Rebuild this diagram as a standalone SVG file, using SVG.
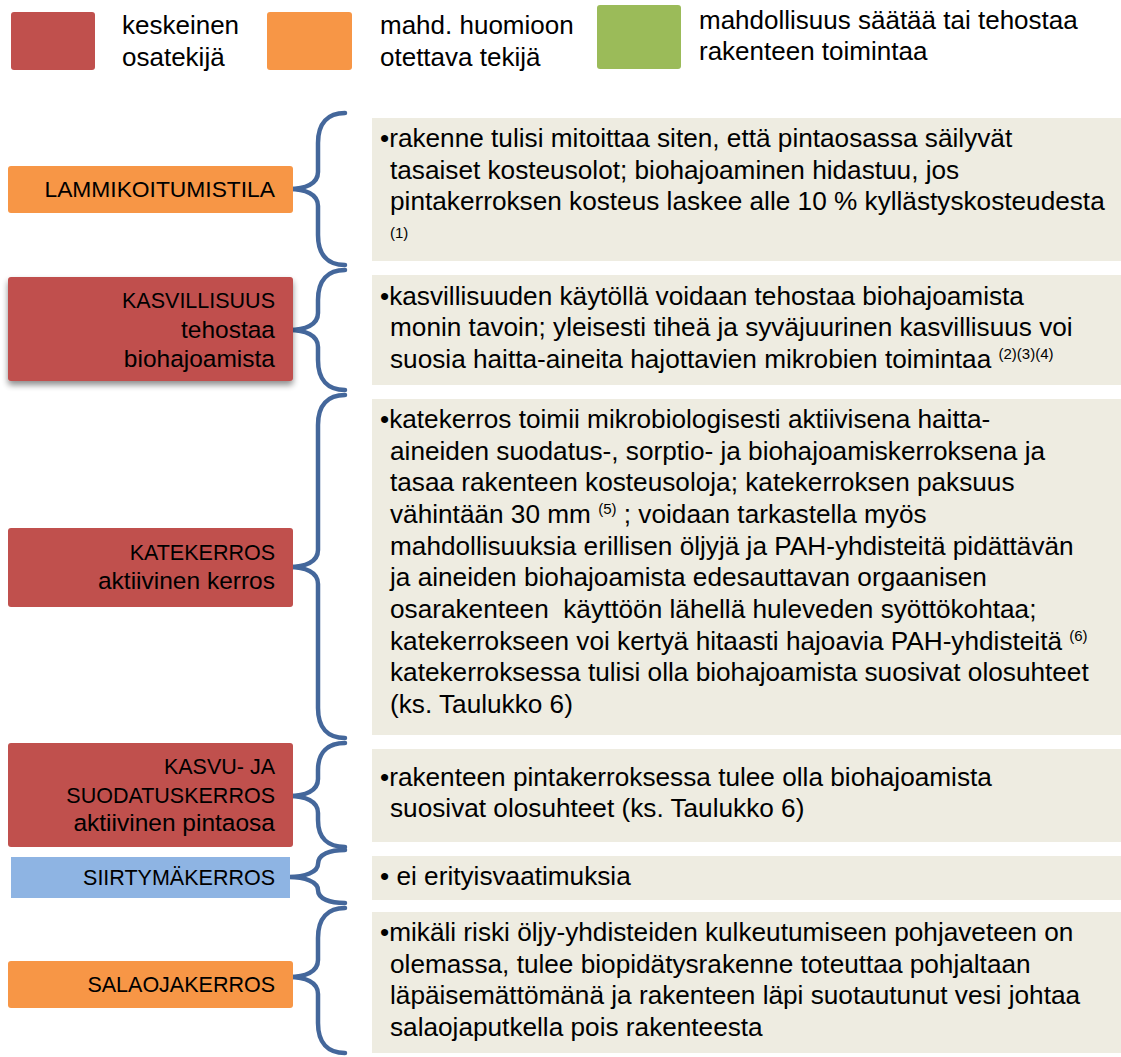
<svg xmlns="http://www.w3.org/2000/svg" width="1121" height="1057" viewBox="0 0 1121 1057">
<style>
text{font-family:"Liberation Sans",Arial,sans-serif;font-size:26.2px;fill:#000}
.leg{font-size:26px}
.lbl{text-anchor:end;font-size:21.5px}
.lc{font-size:24.5px}
.red{fill:#C0504D}
.org{fill:#F79646}
.blu{fill:#8EB4E3}
.grn{fill:#9BBB59}
.tb{fill:#EEECE1}
.brace{fill:none;stroke:#44679B;stroke-width:4.5;stroke-linecap:round}
.sup{font-size:15px}
</style>
<defs>
<filter id="sh" x="-10%" y="-10%" width="120%" height="130%">
<feGaussianBlur in="SourceAlpha" stdDeviation="3"/>
<feOffset dx="0" dy="4" result="b"/>
<feComponentTransfer><feFuncA type="linear" slope="0.45"/></feComponentTransfer>
<feMerge><feMergeNode/><feMergeNode in="SourceGraphic"/></feMerge>
</filter>
</defs>
<rect width="1121" height="1057" fill="#fff"/>

<g id="legend">
<rect class="red" x="11" y="12" width="84" height="58" rx="3"/>
<text class="leg" x="122" y="34">keskeinen</text>
<text class="leg" x="122" y="66">osatekijä</text>
<rect class="org" x="267" y="12" width="85" height="58" rx="3"/>
<text class="leg" x="380" y="34">mahd. huomioon</text>
<text class="leg" x="380" y="66">otettava tekijä</text>
<rect class="grn" x="597" y="5" width="84" height="64" rx="3"/>
<text class="leg" x="699" y="29">mahdollisuus säätää tai tehostaa</text>
<text class="leg" x="699" y="60">rakenteen toimintaa</text>
</g>

<g id="connectors">
<path class="brace" d="M345,113 C328,113 318,123 318,143 L318,172 C318,184 305,189 289,189 C305,189 318,194 318,206 L318,235 C318,255 328,265 345,265"/>
<path class="brace" d="M345,270 C328,270 318,280 318,300 L318,313 C318,325 305,330 289,330 C305,330 318,335 318,347 L318,360 C318,380 328,390 345,390"/>
<path class="brace" d="M345,395 C328,395 318,405 318,425 L318,550 C318,562 305,567 289,567 C305,567 318,572 318,584 L318,708 C318,728 328,738 345,738"/>
<path class="brace" d="M345,743 C328,743 318,752 318,770 L318,779 C318,791 305,796 289,796 C305,796 318,801 318,813 L318,820 C318,838 328,847 345,847"/>
<path class="brace" d="M345,850 C330,850 318,854 318,864 C318,872 305,877 289,877 C305,877 318,882 318,890 C318,899 330,903 345,903"/>
<path class="brace" d="M345,908 C328,908 318,918 318,938 L318,960 C318,972 305,977 289,977 C305,977 318,982 318,994 L318,1023 C318,1043 328,1053 345,1053"/>
</g>

<g id="n1">
<rect class="org" x="8" y="166" width="285" height="47" rx="3"/>
<text class="lbl" x="275" y="197" style="font-size:22.8px">LAMMIKOITUMISTILA</text>
</g>
<g id="t1">
<rect class="tb" x="372" y="118" width="749" height="143"/>
<text x="380" y="147">•rakenne tulisi mitoittaa siten, että pintaosassa säilyvät</text>
<text x="390" y="179">tasaiset kosteusolot; biohajoaminen hidastuu, jos</text>
<text x="390" y="210">pintakerroksen kosteus laskee alle 10 % kyllästyskosteudesta</text>
<text class="sup" x="390" y="238">(1)</text>
</g>

<g id="n2">
<rect class="red" x="8" y="277" width="285" height="104" rx="3" filter="url(#sh)"/>
<text class="lbl" x="275" y="308">KASVILLISUUS</text>
<text class="lbl lc" x="275" y="338">tehostaa</text>
<text class="lbl lc" x="275" y="367">biohajoamista</text>
</g>
<g id="t2">
<rect class="tb" x="372" y="275" width="749" height="110"/>
<text x="380" y="305">•kasvillisuuden käytöllä voidaan tehostaa biohajoamista</text>
<text x="390" y="336">monin tavoin; yleisesti tiheä ja syväjuurinen kasvillisuus voi</text>
<text x="390" y="368">suosia haitta-aineita hajottavien mikrobien toimintaa <tspan class="sup" dy="-9">(2)(3)(4)</tspan></text>
</g>

<g id="n3">
<rect class="red" x="8" y="528" width="285" height="79" rx="3"/>
<text class="lbl" x="275" y="560">KATEKERROS</text>
<text class="lbl lc" x="275" y="589">aktiivinen kerros</text>
</g>
<g id="t3">
<rect class="tb" x="372" y="399" width="749" height="336"/>
<text x="380" y="428">•katekerros toimii mikrobiologisesti aktiivisena haitta-</text>
<text x="390" y="460">aineiden suodatus-, sorptio- ja biohajoamiskerroksena ja</text>
<text x="390" y="491">tasaa rakenteen kosteusoloja; katekerroksen paksuus</text>
<text x="390" y="523">vähintään 30 mm <tspan class="sup" dy="-9">(5)</tspan><tspan dy="9"> ; voidaan tarkastella myös</tspan></text>
<text x="390" y="555">mahdollisuuksia erillisen öljyjä ja PAH-yhdisteitä pidättävän</text>
<text x="390" y="586">ja aineiden biohajoamista edesauttavan orgaanisen</text>
<text x="390" y="618" xml:space="preserve">osarakenteen  käyttöön lähellä huleveden syöttökohtaa;</text>
<text x="390" y="650">katekerrokseen voi kertyä hitaasti hajoavia PAH-yhdisteitä <tspan class="sup" dy="-9">(6)</tspan></text>
<text x="390" y="681">katekerroksessa tulisi olla biohajoamista suosivat olosuhteet</text>
<text x="390" y="713">(ks. Taulukko 6)</text>
</g>

<g id="n4">
<rect class="red" x="8" y="743" width="285" height="104" rx="3"/>
<text class="lbl" x="275" y="774">KASVU- JA</text>
<text class="lbl" x="275" y="803">SUODATUSKERROS</text>
<text class="lbl lc" x="275" y="831">aktiivinen pintaosa</text>
</g>
<g id="t4">
<rect class="tb" x="372" y="749" width="749" height="93"/>
<text x="380" y="786">•rakenteen pintakerroksessa tulee olla biohajoamista</text>
<text x="390" y="817">suosivat olosuhteet (ks. Taulukko 6)</text>
</g>

<g id="n5">
<rect class="blu" x="11" y="857" width="279" height="41"/>
<text class="lbl" x="275" y="885">SIIRTYMÄKERROS</text>
</g>
<g id="t5">
<rect class="tb" x="372" y="856" width="749" height="44"/>
<text x="380" y="885">• ei erityisvaatimuksia</text>
</g>

<g id="n6">
<rect class="org" x="8" y="961" width="285" height="47" rx="3"/>
<text class="lbl" x="275" y="992">SALAOJAKERROS</text>
</g>
<g id="t6">
<rect class="tb" x="372" y="912" width="749" height="141"/>
<text x="380" y="941">•mikäli riski öljy-yhdisteiden kulkeutumiseen pohjaveteen on</text>
<text x="390" y="973">olemassa, tulee biopidätysrakenne toteuttaa pohjaltaan</text>
<text x="390" y="1004">läpäisemättömänä ja rakenteen läpi suotautunut vesi johtaa</text>
<text x="390" y="1036">salaojaputkella pois rakenteesta</text>
</g>
</svg>
